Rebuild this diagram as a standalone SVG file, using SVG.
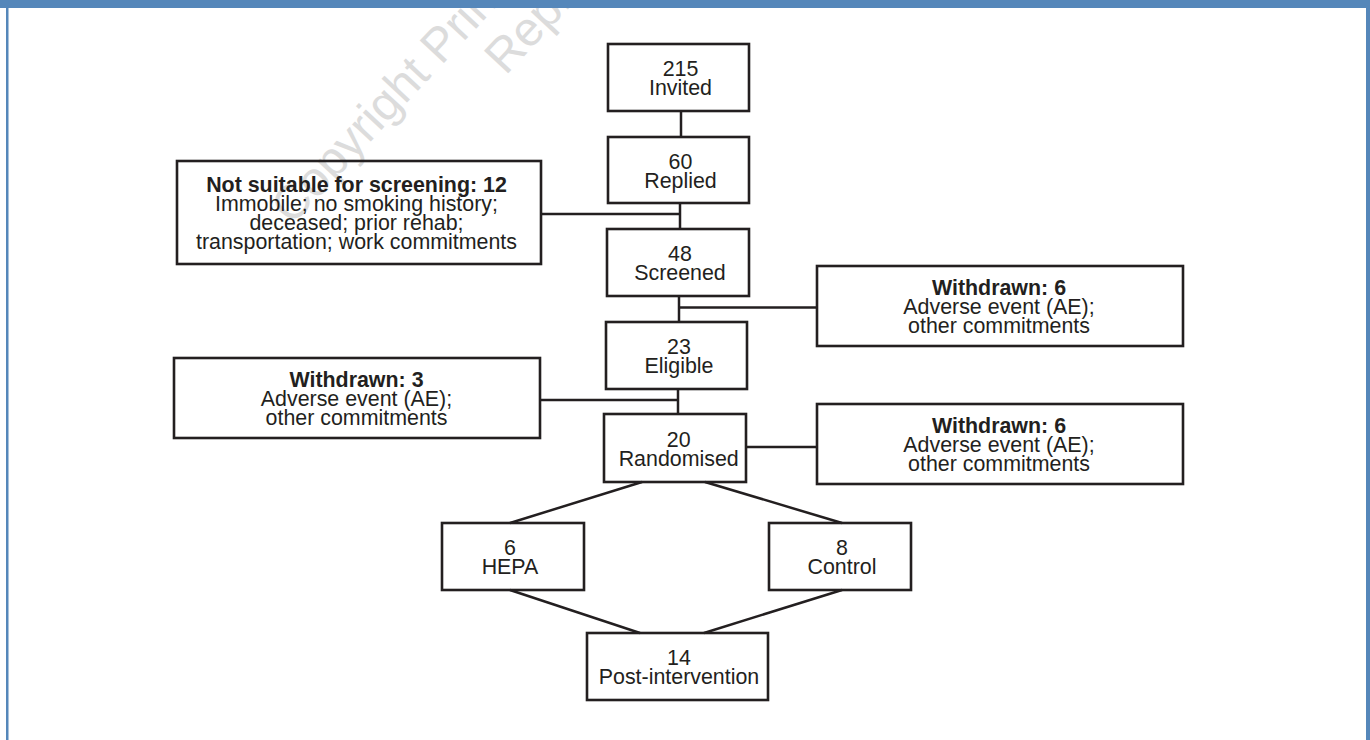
<svg xmlns="http://www.w3.org/2000/svg" width="1370" height="740" viewBox="0 0 1370 740">
<style>
.box{fill:none;stroke:#231f20;stroke-width:2.6}
.ln{fill:none;stroke:#231f20;stroke-width:2.5}
text{font-family:"Liberation Sans",Arial,sans-serif;font-size:21.4px;fill:#231f20;text-anchor:middle}
.b{font-weight:bold}
.wm{font-family:"Liberation Sans",Arial,sans-serif;font-size:48px;fill:#dcdcdc;text-anchor:start}
</style>
<rect x="0" y="0" width="1370" height="740" fill="#ffffff"/>
<g id="watermark" transform="translate(292,226) rotate(-47)">
<text class="wm" x="0" y="0">Copyright Prin</text>
<text class="wm" x="255" y="54">Repro</text>
</g>
<g id="frame" fill="#5587ba">
<rect x="0" y="0" width="1370" height="8"/>
<rect x="6" y="0" width="2.5" height="740"/>
<rect x="1366" y="0" width="4" height="740"/>
</g>
<g id="connectors">
<line class="ln" x1="681" y1="111" x2="681" y2="137"/>
<line class="ln" x1="680" y1="203" x2="680" y2="229"/>
<line class="ln" x1="541" y1="214" x2="680" y2="214"/>
<line class="ln" x1="679" y1="296" x2="679" y2="322"/>
<line class="ln" x1="679" y1="307.5" x2="817" y2="307.5"/>
<line class="ln" x1="678" y1="389" x2="678" y2="414"/>
<line class="ln" x1="540" y1="400" x2="678" y2="400"/>
<line class="ln" x1="746" y1="447" x2="817" y2="447"/>
<line class="ln" x1="642" y1="482" x2="510" y2="523"/>
<line class="ln" x1="705" y1="482" x2="842" y2="523"/>
<line class="ln" x1="510" y1="590" x2="640" y2="633"/>
<line class="ln" x1="842" y1="590" x2="704" y2="633"/>
</g>
<g id="invited">
<rect class="box" x="608" y="44" width="141" height="67"/>
<text x="680.5" y="76">215</text>
<text x="680.5" y="95">Invited</text>
</g>
<g id="replied">
<rect class="box" x="608" y="137" width="141" height="66"/>
<text x="680.5" y="168.5">60</text>
<text x="680.5" y="187.5">Replied</text>
</g>
<g id="not-suitable">
<rect class="box" x="177" y="161" width="364" height="103"/>
<text class="b" x="356.5" y="191.5">Not suitable for screening: 12</text>
<text x="356.5" y="210.5">Immobile; no smoking history;</text>
<text x="356.5" y="229.5">deceased; prior rehab;</text>
<text x="356.5" y="248.5">transportation; work commitments</text>
</g>
<g id="screened">
<rect class="box" x="607" y="229" width="142" height="67"/>
<text x="680" y="261">48</text>
<text x="680" y="280">Screened</text>
</g>
<g id="withdrawn-screened">
<rect class="box" x="817" y="266" width="366" height="80"/>
<text class="b" x="999" y="295">Withdrawn: 6</text>
<text x="999" y="314">Adverse event (AE);</text>
<text x="999" y="333">other commitments</text>
</g>
<g id="eligible">
<rect class="box" x="606" y="322" width="141" height="67"/>
<text x="679" y="354">23</text>
<text x="679" y="373">Eligible</text>
</g>
<g id="withdrawn-eligible">
<rect class="box" x="174" y="358" width="366" height="80"/>
<text class="b" x="356.5" y="387">Withdrawn: 3</text>
<text x="356.5" y="406">Adverse event (AE);</text>
<text x="356.5" y="425">other commitments</text>
</g>
<g id="randomised">
<rect class="box" x="604" y="414" width="142" height="68"/>
<text x="678.7" y="446.5">20</text>
<text x="678.7" y="465.5">Randomised</text>
</g>
<g id="withdrawn-randomised">
<rect class="box" x="817" y="404" width="366" height="80"/>
<text class="b" x="999" y="433">Withdrawn: 6</text>
<text x="999" y="452">Adverse event (AE);</text>
<text x="999" y="471">other commitments</text>
</g>
<g id="hepa">
<rect class="box" x="442" y="523" width="142" height="67"/>
<text x="510" y="555">6</text>
<text x="510" y="574">HEPA</text>
</g>
<g id="control">
<rect class="box" x="769" y="523" width="142" height="67"/>
<text x="842" y="555">8</text>
<text x="842" y="574">Control</text>
</g>
<g id="post-intervention">
<rect class="box" x="587" y="633" width="181" height="67"/>
<text x="679" y="665">14</text>
<text x="679" y="684">Post-intervention</text>
</g>
</svg>
